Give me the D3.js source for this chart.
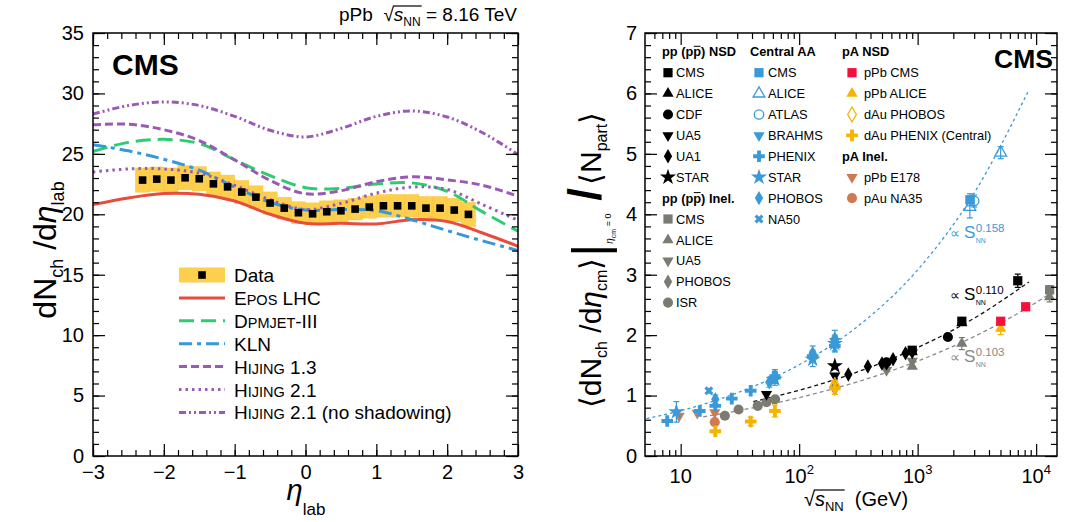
<!DOCTYPE html>
<html><head><meta charset="utf-8">
<script src="https://cdn.jsdelivr.net/npm/d3@7"></script>
<style>body{margin:0;background:#fff}svg{font-family:"Liberation Sans",Arial,Helvetica,sans-serif}text{white-space:pre}</style>
</head><body>
<svg id="c" width="1067" height="522"></svg>
<script>
// ================= LEFT PANEL DATA =================
const etaBins = [-2.3,-2.1,-1.9,-1.7,-1.5,-1.3,-1.1,-0.9,-0.7,-0.5,-0.3,-0.1,0.1,0.3,0.5,0.7,0.9,1.1,1.3,1.5,1.7,1.9,2.1,2.3];
const dataVals = [22.83,22.91,22.83,23.02,22.94,22.52,22.27,21.84,21.42,20.93,20.51,20.13,20.04,20.21,20.29,20.43,20.60,20.70,20.70,20.70,20.51,20.51,20.35,19.99];
const dataSyst = [1.0,1.0,1.0,1.0,1.0,0.98,0.97,0.95,0.93,0.92,0.9,0.9,0.9,0.9,0.9,0.9,0.92,0.93,0.93,0.93,0.95,0.95,0.97,1.0];
const etaModel = [-3,-2.5,-2,-1.5,-1,-0.5,0,0.5,1,1.5,2,2.5,3];
const eposLHC  = [20.8,21.35,21.72,21.65,21.1,20.0,19.25,19.25,19.2,19.55,19.4,18.45,17.35];
const dpmjet   = [25.2,25.95,26.2,25.85,24.5,23.2,22.2,22.15,22.5,22.6,21.9,20.2,18.6];
const kln      = [25.75,25.25,24.55,23.65,22.25,21.0,20.35,20.4,20.3,19.55,18.65,17.8,17.0];
const hijing13 = [27.4,27.45,27.0,26.1,24.5,22.8,21.7,21.95,22.7,23.1,22.85,22.4,21.5];
const hijing21 = [23.5,23.75,23.75,23.4,22.4,21.2,20.4,20.9,21.75,22.25,22.05,20.8,19.5];
const hijing21ns = [28.3,29.0,29.3,29.0,28.1,26.95,26.4,27.1,28.1,28.55,28.05,26.75,24.95];
const leftYTicks = [0,5,10,15,20,25,30,35];
const leftXTicks = [-3,-2,-1,0,1,2,3];

// ================= RIGHT PANEL DATA ([sqrt(sNN) GeV, value, error]) =================
const ppNSD_CMS   = [[900,1.75,0.04],[2360,2.23,0.05],[7000,2.90,0.11]];
const ppNSD_ALICE = [[900,1.72,0.04],[2360,2.20,0.05]];
const ppNSD_CDF   = [[546,1.55,0.03],[1800,1.97,0.04]];
const ppNSD_UA5   = [[53,1.02,0.03],[200,1.33,0.03],[546,1.52,0.03],[900,1.71,0.03]];
const ppNSD_UA1   = [[260,1.35,0.03],[380,1.48,0.03],[500,1.53,0.03],[620,1.60,0.03],[790,1.70,0.03]];
const ppNSD_STAR  = [[200,1.49,0.06]];
const ppIn_CMS    = [[13000,2.75,0.07]];
const ppIn_ALICE  = [[900,1.48,0.03],[2360,1.86,0.1],[13000,2.63,0.08]];
const ppIn_UA5    = [[200,1.10,0.03],[546,1.42,0.03],[900,1.57,0.04]];
const ppIn_PHOBOS = [[200,1.15,0.05]];
const ppIn_ISR    = [[23.6,0.667,0.02],[30.8,0.77,0.02],[44.7,0.83,0.02],[53,0.89,0.02],[62.7,0.94,0.02]];
const AA_CMS    = [[2760,4.24,0.1]];
const AA_ALICE  = [[2760,4.12,0.18],[5020,5.02,0.1]];
const AA_ATLAS  = [[3000,4.22,0.1]];
const AA_BRAHMS = [[62.4,1.30,0.1],[200,1.90,0.1]];
const AA_PHENIX = [[7.7,0.58,0.04],[14.5,0.745,0.04],[19.6,0.83,0.05],[27,0.95,0.05],[39,1.08,0.06],[62.4,1.30,0.08],[130,1.65,0.1],[200,1.82,0.1]];
const AA_STAR   = [[9.2,0.73,0.17],[62.4,1.27,0.1],[130,1.60,0.12],[200,1.86,0.12]];
const AA_PHOBOS = [[19.6,0.94,0.07],[56,1.22,0.08],[62.4,1.33,0.1],[130,1.70,0.12],[200,1.94,0.14]];
const AA_NA50   = [[17.3,1.08,0.05]];
const pA_pPbCMS    = [[5020,2.23,0.04],[8160,2.47,0.04]];
const pA_pPbALICE  = [[5020,2.11,0.1]];
const pA_dAuPHOBOS = [[200,1.17,0.08]];
const pA_dAuPHENIX = [[19.6,0.41,0.06],[39,0.57,0.07],[62.4,0.745,0.1],[200,1.12,0.1]];
const pAIn_E178    = [[9.7,0.66,0.02],[13.8,0.71,0.02],[19.4,0.72,0.02]];
const pAIn_NA35    = [[19.4,0.56,0.03]];
// fit curves
const fitAA   = [[4.6,0.60],[10,0.75],[30,1.045],[100,1.51],[300,2.12],[1000,3.08],[3000,4.35],[8500,6.02]];
const fitPP   = [[41,0.90],[100,1.088],[300,1.381],[1000,1.795],[3000,2.28],[8700,2.88]];
const fitPPin = [[15.5,0.648],[30,0.747],[100,0.966],[300,1.219],[1000,1.571],[3000,1.977],[10000,2.54],[16000,2.80]];
const rightYTicks = [0,1,2,3,4,5,6,7];
const rightXMajor = [10,100,1000,10000];
const rightXMinor = [6,7,8,9,20,30,40,50,60,70,80,90,200,300,400,500,600,700,800,900,2000,3000,4000,5000,6000,7000,8000,9000];

// ================= helpers =================
const svg = d3.select('#c');
function rich(parent, x, y, parts, anchor, rotate) {
  const g = parent.append('g');
  const inner = g.append('g');
  let cx = 0; const pos = [];
  parts.forEach(p => {
    const t = inner.append('text').attr('x', cx + (p.dx||0)).attr('y', p.dy||0)
      .attr('font-size', p.size).text(p.t);
    if (p.italic) t.attr('font-style','italic');
    if (p.bold) t.attr('font-weight','bold');
    if (p.fill) t.attr('fill', p.fill);
    const w = t.node().getComputedTextLength();
    pos.push([cx + (p.dx||0), cx + (p.dx||0) + w]);
    cx += w + (p.dx||0);
  });
  const off = anchor === 'end' ? -cx : anchor === 'middle' ? -cx/2 : 0;
  inner.attr('transform', `translate(${off},0)`);
  g.attr('transform', rotate ? `translate(${x},${y}) rotate(-90)` : `translate(${x},${y})`);
  return {g: inner, pos, width: cx};
}
function marker(g, type, x, y, color) {
  let sym, size, rot = 0, open = false;
  switch (type) {
    case 'square': sym = d3.symbolSquare; size = 85; break;
    case 'triUp': sym = d3.symbolTriangle; size = 55; break;
    case 'triDown': sym = d3.symbolTriangle; size = 55; rot = 180; break;
    case 'circle': sym = d3.symbolCircle; size = 80; break;
    case 'diamond': sym = d3.symbolDiamond; size = 60; break;
    case 'star': sym = d3.symbolStar; size = 80; break;
    case 'cross': sym = d3.symbolCross; size = 75; break;
    case 'times': sym = d3.symbolCross; size = 50; rot = 45; break;
    case 'openTri': sym = d3.symbolTriangle; size = 60; open = true; break;
    case 'openCircle': sym = d3.symbolCircle; size = 70; open = true; break;
    case 'openDiamond': sym = d3.symbolDiamond; size = 65; open = true; break;
  }
  const p = g.append('path').attr('d', d3.symbol(sym, size)())
    .attr('transform', `translate(${x},${y}) rotate(${rot})`);
  if (open) p.attr('fill', 'none').attr('stroke', color).attr('stroke-width', 1.3);
  else p.attr('fill', color);
  return p;
}

// ================= LEFT PANEL =================
const L = {x0: 93, x1: 518, y0: 33, y1: 456};
const xL = d3.scaleLinear().domain([-3, 3]).range([L.x0, L.x1]);
const yL = d3.scaleLinear().domain([0, 35]).range([L.y1, L.y0]);
svg.append('clipPath').attr('id', 'clipL').append('rect')
  .attr('x', L.x0).attr('y', L.y0).attr('width', L.x1 - L.x0).attr('height', L.y1 - L.y0);
const gL = svg.append('g');
const dataColor = '#fecf4d';
gL.append('g').selectAll('rect').data(etaBins).join('rect')
  .attr('x', (d) => xL(d - 0.1)).attr('width', (d) => xL(d + 0.1) - xL(d - 0.1))
  .attr('y', (d, i) => yL(dataVals[i] + dataSyst[i]))
  .attr('height', (d, i) => yL(dataVals[i] - dataSyst[i]) - yL(dataVals[i] + dataSyst[i]))
  .attr('fill', dataColor).attr('stroke', '#f7c237').attr('stroke-width', 0.5);

const models = [
  {name: 'epos', vals: eposLHC, color: '#e74c3c', dash: null},
  {name: 'dpm', vals: dpmjet, color: '#2ecc71', dash: '15,7'},
  {name: 'kln', vals: kln, color: '#3498db', dash: '13,5,4,5'},
  {name: 'h13', vals: hijing13, color: '#9b59b6', dash: '8,4'},
  {name: 'h21', vals: hijing21, color: '#9b59b6', dash: '2.5,4'},
  {name: 'h21ns', vals: hijing21ns, color: '#9b59b6', dash: '7,3,2,3,2,3'},
];
const lineL = d3.line().x((d) => xL(d[0])).y((d) => yL(d[1])).curve(d3.curveCatmullRom.alpha(0.5));
const gCurves = gL.append('g').attr('clip-path', 'url(#clipL)');
models.forEach(m => {
  gCurves.append('path').datum(etaModel.map((e, i) => [e, m.vals[i]]))
    .attr('d', lineL).attr('fill', 'none').attr('stroke', m.color).attr('stroke-width', 3)
    .attr('stroke-dasharray', m.dash);
});
gL.append('g').selectAll('rect').data(etaBins).join('rect')
  .attr('x', (d) => xL(d) - 3.8).attr('y', (d, i) => yL(dataVals[i]) - 3.8)
  .attr('width', 7.6).attr('height', 7.6).attr('fill', '#000');

function styleAxis(g) { g.select('.domain').remove(); g.selectAll('line').attr('stroke', '#000').attr('stroke-width', 1.2); g.selectAll('text').attr('font-size', 20).attr('font-family', '"Liberation Sans",Arial,sans-serif').attr('fill', '#000'); }
const yMinorL = d3.range(0, 36, 1);
const xMinorL = d3.range(-30, 31, 2).map(v => v / 10);
gL.append('g').attr('transform', `translate(${L.x0},0)`).call(d3.axisLeft(yL).tickValues(leftYTicks).tickSize(-12).tickPadding(9).tickFormat(d3.format('d'))).call(styleAxis);
gL.append('g').attr('transform', `translate(${L.x0},0)`).call(d3.axisLeft(yL).tickValues(yMinorL).tickSize(-6).tickFormat('')).call(styleAxis);
gL.append('g').attr('transform', `translate(${L.x1},0)`).call(d3.axisRight(yL).tickValues(leftYTicks).tickSize(-12).tickFormat('')).call(styleAxis);
gL.append('g').attr('transform', `translate(${L.x1},0)`).call(d3.axisRight(yL).tickValues(yMinorL).tickSize(-6).tickFormat('')).call(styleAxis);
gL.append('g').attr('transform', `translate(0,${L.y1})`).call(d3.axisBottom(xL).tickValues(leftXTicks).tickSize(-12).tickPadding(9).tickFormat(d => d < 0 ? '\u2212' + Math.abs(d) : String(d))).call(styleAxis);
gL.append('g').attr('transform', `translate(0,${L.y1})`).call(d3.axisBottom(xL).tickValues(xMinorL).tickSize(-6).tickFormat('')).call(styleAxis);
gL.append('g').attr('transform', `translate(0,${L.y0})`).call(d3.axisTop(xL).tickValues(leftXTicks).tickSize(-12).tickFormat('')).call(styleAxis);
gL.append('g').attr('transform', `translate(0,${L.y0})`).call(d3.axisTop(xL).tickValues(xMinorL).tickSize(-6).tickFormat('')).call(styleAxis);
gL.append('rect').attr('x', L.x0).attr('y', L.y0).attr('width', L.x1 - L.x0).attr('height', L.y1 - L.y0)
  .attr('fill', 'none').attr('stroke', '#000').attr('stroke-width', 1.5);

gL.append('text').attr('x', 112).attr('y', 75).attr('font-size', 30).attr('font-weight', 'bold').text('CMS');
const tt = rich(svg, 517, 21, [
  {t: 'pPb  ', size: 19}, {t: '\u221A', size: 19}, {t: 's', size: 19, italic: true},
  {t: 'NN', size: 12, dy: 5}, {t: ' = 8.16 TeV', size: 19}], 'end');
tt.g.append('line').attr('x1', tt.pos[1][1] - 1).attr('x2', tt.pos[3][1] + 1).attr('y1', -15).attr('y2', -15).attr('stroke', '#000').attr('stroke-width', 1.2);

const legRows = [275, 297.9, 320.8, 343.7, 366.6, 389.5, 412.4];
const legL = gL.append('g');
legL.append('rect').attr('x', 179).attr('y', legRows[0] - 7.5).attr('width', 46).attr('height', 15).attr('fill', dataColor);
legL.append('rect').attr('x', 202 - 3.8).attr('y', legRows[0] - 3.8).attr('width', 7.6).attr('height', 7.6).attr('fill', '#000');
models.forEach((m, i) => {
  legL.append('line').attr('x1', 179).attr('x2', 225).attr('y1', legRows[i + 1]).attr('y2', legRows[i + 1])
    .attr('stroke', m.color).attr('stroke-width', 3).attr('stroke-dasharray', m.dash);
});
const legLabels = [
  [{t: 'Data', size: 19}],
  [{t: 'E', size: 19}, {t: 'POS', size: 14.5}, {t: ' LHC', size: 19}],
  [{t: 'D', size: 19}, {t: 'PMJET', size: 14.5}, {t: '-III', size: 19}],
  [{t: 'KLN', size: 19}],
  [{t: 'H', size: 19}, {t: 'IJING', size: 14.5}, {t: ' 1.3', size: 19}],
  [{t: 'H', size: 19}, {t: 'IJING', size: 14.5}, {t: ' 2.1', size: 19}],
  [{t: 'H', size: 19}, {t: 'IJING', size: 14.5}, {t: ' 2.1 (no shadowing)', size: 19}],
];
legLabels.forEach((parts, i) => rich(legL, 234, legRows[i] + 7, parts, 'start'));

rich(svg, 56, 250, [
  {t: 'dN', size: 32}, {t: 'ch', size: 18, dy: 7}, {t: ' /d', size: 32}, {t: '\u03B7', size: 32, italic: true},
  {t: 'lab', size: 18, dy: 8}], 'middle', true);
rich(svg, 306, 500, [{t: '\u03B7', size: 29, italic: true}, {t: 'lab', size: 17, dy: 15}], 'middle');

// ================= RIGHT PANEL =================
const R = {x0: 645, x1: 1057, y0: 33, y1: 456};
const xR = d3.scaleLog().domain([5, 15000]).range([R.x0, R.x1]);
const yR = d3.scaleLinear().domain([0, 7]).range([R.y1, R.y0]);
svg.append('clipPath').attr('id', 'clipR').append('rect')
  .attr('x', R.x0).attr('y', R.y0).attr('width', R.x1 - R.x0).attr('height', R.y1 - R.y0);
const gR = svg.append('g');
const cBlue = '#3a9ad9', cRed = '#f5103c', cYel = '#f6b300', cGray = '#7b7b72', cBrown = '#d07a52';

const lineR = d3.line().x(d => xR(d[0])).y(d => yR(d[1])).curve(d3.curveMonotoneX);
const gFits = gR.append('g').attr('clip-path', 'url(#clipR)');
gFits.append('path').datum(fitAA).attr('d', lineR).attr('fill', 'none').attr('stroke', cBlue).attr('stroke-width', 1.3).attr('stroke-dasharray', '3,3');
gFits.append('path').datum(fitPPin).attr('d', lineR).attr('fill', 'none').attr('stroke', '#8a8a8a').attr('stroke-width', 1.3).attr('stroke-dasharray', '4,3');
gFits.append('path').datum(fitPP).attr('d', lineR).attr('fill', 'none').attr('stroke', '#111').attr('stroke-width', 1.3).attr('stroke-dasharray', '4,3');

const series = [
  [ppIn_ISR, 'circle', cGray], [ppIn_UA5, 'triDown', cGray], [ppIn_PHOBOS, 'diamond', cGray], [ppIn_ALICE, 'triUp', cGray], [ppIn_CMS, 'square', cGray],
  [pAIn_E178, 'triDown', cBrown], [pAIn_NA35, 'circle', cBrown],
  [AA_PHENIX, 'cross', cBlue], [AA_STAR, 'star', cBlue], [AA_PHOBOS, 'diamond', cBlue], [AA_BRAHMS, 'triDown', cBlue], [AA_NA50, 'times', cBlue],
  [AA_ALICE, 'openTri', cBlue], [AA_ATLAS, 'openCircle', cBlue], [AA_CMS, 'square', cBlue],
  [ppNSD_UA5, 'triDown', '#000'], [ppNSD_UA1, 'diamond', '#000'], [ppNSD_CDF, 'circle', '#000'], [ppNSD_STAR, 'star', '#000'], [ppNSD_ALICE, 'triUp', '#000'], [ppNSD_CMS, 'square', '#000'],
  [pA_dAuPHENIX, 'cross', cYel], [pA_dAuPHOBOS, 'openDiamond', cYel], [pA_pPbALICE, 'triUp', cYel], [pA_pPbCMS, 'square', cRed],
];
const gPts = gR.append('g');
series.forEach(([arr, type, col]) => {
  arr.forEach(d => {
    const x = xR(d[0]);
    if (d[2] > 0) {
      const ya = yR(d[1] + d[2]), yb = yR(d[1] - d[2]);
      gPts.append('line').attr('x1', x).attr('x2', x).attr('y1', ya).attr('y2', yb).attr('stroke', col).attr('stroke-width', 1.2);
      if (d[2] > 0.06) {
        gPts.append('line').attr('x1', x - 3).attr('x2', x + 3).attr('y1', ya).attr('y2', ya).attr('stroke', col).attr('stroke-width', 1.2);
        gPts.append('line').attr('x1', x - 3).attr('x2', x + 3).attr('y1', yb).attr('y2', yb).attr('stroke', col).attr('stroke-width', 1.2);
      }
    }
    marker(gPts, type, x, yR(d[1]), col);
  });
});

function fitLabel(x, y, exp, col) {
  const r = rich(gR, x, y, [{t: '\u221D ', size: 14, fill: col}, {t: 'S', size: 17, fill: col}], 'start');
  const sx = r.pos[1][1];
  r.g.append('text').attr('x', sx + 0.5).attr('y', -6).attr('font-size', 11.5).attr('fill', col).text(exp);
  r.g.append('text').attr('x', sx + 0.5).attr('y', 5).attr('font-size', 7).attr('fill', col).text('NN');
}
fitLabel(950, 238, '0.158', cBlue);
fitLabel(950, 300, '0.110', '#000');
fitLabel(950, 362, '0.103', '#888');

const yMinorR = d3.range(0, 71, 2).map(v => v / 10);
gR.append('g').attr('transform', `translate(${R.x0},0)`).call(d3.axisLeft(yR).tickValues(rightYTicks).tickSize(-12).tickPadding(8).tickFormat(d3.format('d'))).call(styleAxis);
gR.append('g').attr('transform', `translate(${R.x0},0)`).call(d3.axisLeft(yR).tickValues(yMinorR).tickSize(-6).tickFormat('')).call(styleAxis);
gR.append('g').attr('transform', `translate(${R.x1},0)`).call(d3.axisRight(yR).tickValues(rightYTicks).tickSize(-12).tickFormat('')).call(styleAxis);
gR.append('g').attr('transform', `translate(${R.x1},0)`).call(d3.axisRight(yR).tickValues(yMinorR).tickSize(-6).tickFormat('')).call(styleAxis);
gR.append('g').attr('transform', `translate(0,${R.y1})`).call(d3.axisBottom(xR).tickValues(rightXMajor).tickSize(-12).tickFormat('')).call(styleAxis);
gR.append('g').attr('transform', `translate(0,${R.y1})`).call(d3.axisBottom(xR).tickValues(rightXMinor).tickSize(-6).tickFormat('')).call(styleAxis);
gR.append('g').attr('transform', `translate(0,${R.y0})`).call(d3.axisTop(xR).tickValues(rightXMajor).tickSize(-12).tickFormat('')).call(styleAxis);
gR.append('g').attr('transform', `translate(0,${R.y0})`).call(d3.axisTop(xR).tickValues(rightXMinor).tickSize(-6).tickFormat('')).call(styleAxis);
gR.append('rect').attr('x', R.x0).attr('y', R.y0).attr('width', R.x1 - R.x0).attr('height', R.y1 - R.y0)
  .attr('fill', 'none').attr('stroke', '#000').attr('stroke-width', 1.5);
rightXMajor.forEach(v => {
  const e = Math.round(Math.log10(v));
  if (e === 1) rich(gR, xR(v), 483, [{t: '10', size: 20}], 'middle');
  else rich(gR, xR(v), 483, [{t: '10', size: 20}, {t: String(e), size: 13, dy: -9}], 'middle');
});
const xt = rich(svg, 856, 506, [{t: '\u221A', size: 20}, {t: 's', size: 20, italic: true}, {t: 'NN', size: 13, dy: 5}, {t: '  (GeV)', size: 20}], 'middle');
xt.g.append('line').attr('x1', xt.pos[0][1] - 1).attr('x2', xt.pos[2][1] + 1).attr('y1', -16).attr('y2', -16).attr('stroke', '#000').attr('stroke-width', 1.2);

rich(svg, 601, 260, [
  {t: '\u27E8dN', size: 30}, {t: 'ch', size: 16, dy: 6}, {t: ' /d', size: 30}, {t: '\u03B7', size: 30, italic: true},
  {t: 'cm', size: 16, dy: 6}, {t: '\u27E9', size: 30}, {t: '|', size: 50, dy: 6, dx: 1},
  {t: '\u03B7', size: 10, dy: 12, italic: true}, {t: 'cm', size: 7, dy: 15}, {t: ' = 0', size: 9, dy: 10},
  {t: ' /', size: 46, bold: true}, {t: '\u27E8N', size: 30, dx: 3}, {t: 'part', size: 16, dy: 6}, {t: '\u27E9', size: 30}], 'middle', true);

gR.append('text').attr('x', 1053).attr('y', 68).attr('font-size', 26.5).attr('font-weight', 'bold').attr('text-anchor', 'end').text('CMS');

const rowY = i => 72.7 + i * 20.9;
const lf = 12.8;
function header(x, y, txt, overIdx) {
  const t = gR.append('text').attr('x', x).attr('y', y + 4.6).attr('font-size', lf).attr('font-weight', 'bold').text(txt);
  if (overIdx != null) {
    const ext = t.node().getExtentOfChar(overIdx);
    gR.append('line').attr('x1', ext.x + 0.5).attr('x2', ext.x + ext.width - 0.5).attr('y1', y - 5.5).attr('y2', y - 5.5).attr('stroke', '#000').attr('stroke-width', 1);
  }
}
function entry(mx, lx, y, type, col, txt) {
  marker(gR, type, mx, y, col);
  gR.append('text').attr('x', lx).attr('y', y + 4.6).attr('font-size', lf).text(txt);
}
header(662, rowY(-1), 'pp (pp) NSD', 5);
[['square', 'CMS'], ['triUp', 'ALICE'], ['circle', 'CDF'], ['triDown', 'UA5'], ['diamond', 'UA1'], ['star', 'STAR']]
  .forEach(([t, n], i) => entry(668, 676, rowY(i), t, '#000', n));
header(662, rowY(6), 'pp (pp) Inel.', 5);
[['square', 'CMS'], ['triUp', 'ALICE'], ['triDown', 'UA5'], ['diamond', 'PHOBOS'], ['circle', 'ISR']]
  .forEach(([t, n], i) => entry(668, 676, rowY(7 + i), t, cGray, n));
header(750, rowY(-1), 'Central AA');
[['square', 'CMS'], ['openTri', 'ALICE'], ['openCircle', 'ATLAS'], ['triDown', 'BRAHMS'], ['cross', 'PHENIX'], ['star', 'STAR'], ['diamond', 'PHOBOS'], ['times', 'NA50']]
  .forEach(([t, n], i) => entry(759, 768, rowY(i), t, cBlue, n));
header(842, rowY(-1), 'pA NSD');
[['square', 'pPb CMS', cRed], ['triUp', 'pPb ALICE', cYel], ['openDiamond', 'dAu PHOBOS', cYel], ['cross', 'dAu PHENIX (Central)', cYel]]
  .forEach(([t, n, c], i) => entry(852, 864, rowY(i), t, c, n));
header(842, rowY(4), 'pA Inel.');
[['triDown', 'pPb E178'], ['circle', 'pAu NA35']]
  .forEach(([t, n], i) => entry(852, 864, rowY(5 + i), t, cBrown, n));
</script>
</body></html>
